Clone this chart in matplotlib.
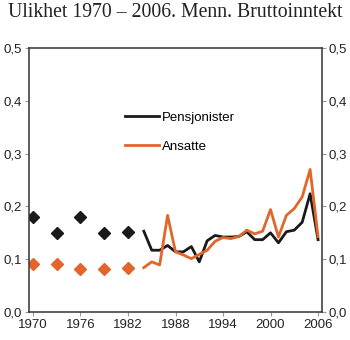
import matplotlib
matplotlib.use("Agg")
import matplotlib.pyplot as plt
import numpy as np

# Survey years shown as single points
point_years = [1970, 1973, 1976, 1979, 1982]
pens_points = [0.180, 0.150, 0.180, 0.150, 0.152]
ans_points = [0.090, 0.090, 0.081, 0.081, 0.083]

# Annual series
line_years = list(range(1984, 2007))
pensjonister = [0.153, 0.117, 0.117, 0.126, 0.114, 0.114, 0.124, 0.095, 0.135,
                0.145, 0.142, 0.142, 0.143, 0.152, 0.137, 0.137, 0.150, 0.131,
                0.152, 0.155, 0.170, 0.224, 0.137]
ansatte = [0.084, 0.095, 0.089, 0.183, 0.114, 0.108, 0.101, 0.109, 0.117,
           0.134, 0.141, 0.139, 0.143, 0.155, 0.148, 0.153, 0.194, 0.142,
           0.183, 0.196, 0.218, 0.270, 0.143]

x_ticks = [1970, 1976, 1982, 1988, 1994, 2000, 2006]
y_ticks = [0.0, 0.1, 0.2, 0.3, 0.4, 0.5]
y_labels = ["0,0", "0,1", "0,2", "0,3", "0,4", "0,5"]

BLACK = "#1a1a1a"
ORANGE = "#e2662c"

plt.rcParams["font.family"] = ["Liberation Sans", "DejaVu Sans"]

fig = plt.figure(figsize=(3.5, 3.4), dpi=100)
ax = fig.add_axes([29 / 350, 1 - 312 / 340, 293 / 350, 264 / 340])

ax.plot(point_years, pens_points, linestyle="none", marker="D", ms=6,
        color=BLACK, mec=BLACK)
ax.plot(point_years, ans_points, linestyle="none", marker="D", ms=6,
        color=ORANGE, mec=ORANGE)
ax.plot(line_years, pensjonister, color=BLACK, lw=2, label="Pensjonister")
ax.plot(line_years, ansatte, color=ORANGE, lw=2, label="Ansatte")

ax.set_xlim(1969.5, 2006.5)
ax.set_ylim(0, 0.5)
ax.set_xticks(x_ticks)
ax.set_xticklabels([str(y) for y in x_ticks])
ax.set_yticks(y_ticks)
ax.set_yticklabels(y_labels)

ax.tick_params(axis="both", direction="out", length=3, width=0.8,
               color="#999999", labelsize=9.5, labelcolor="#222222", pad=2)
ax.tick_params(axis="y", left=True, right=True, labelleft=True, labelright=True)
for side in ["left", "right", "top", "bottom"]:
    ax.spines[side].set_color("#333333")
    ax.spines[side].set_linewidth(1.1)

leg = ax.legend(loc="upper left", bbox_to_anchor=(0.31, 0.78), frameon=False,
                fontsize=9.5, handlelength=2.6, handletextpad=0.2,
                labelspacing=1.3, borderaxespad=0)

fig.text(0.5, 0.962, "Ulikhet 1970 \u2013 2006. Menn. Bruttoinntekt",
         ha="center", va="center", fontsize=14.2,
         family=["Liberation Serif", "DejaVu Serif"], color="#222222")

fig.savefig("out.png", dpi=100)
